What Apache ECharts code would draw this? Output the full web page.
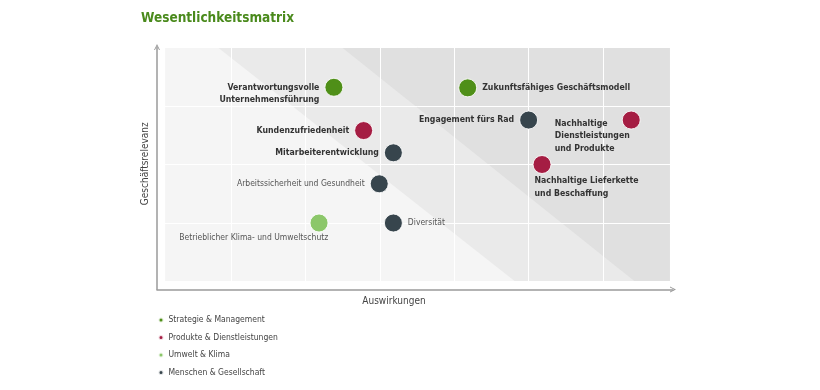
<!DOCTYPE html>
<html><head><meta charset="utf-8">
<script src="https://cdn.jsdelivr.net/npm/echarts@6/dist/echarts.min.js"></script>
<style>html,body{margin:0;padding:0;background:#fff}#c{width:820px;height:390px}</style>
</head><body><div id="c"></div>
<script>
// ---- data ----
const categories = ['Strategie & Management', 'Produkte & Dienstleistungen', 'Umwelt & Klima', 'Menschen & Gesellschaft'];
const topics = [
  'Verantwortungsvolle\nUnternehmensführung',
  'Zukunftsfähiges Geschäftsmodell',
  'Kundenzufriedenheit',
  'Engagement fürs Rad',
  'Nachhaltige\nDienstleistungen\nund Produkte',
  'Mitarbeiterentwicklung',
  'Nachhaltige Lieferkette\nund Beschaffung',
  'Arbeitssicherheit und Gesundheit',
  'Diversität',
  'Betrieblicher Klima- und Umweltschutz'
];
const topicCategory = [0, 0, 1, 3, 1, 3, 1, 3, 3, 2];
const impact    = [2.38, 4.18, 2.78, 5.00, 6.38, 3.18, 5.18, 2.99, 3.18, 2.18];
const relevance = [3.32, 3.31, 2.58, 2.76, 2.76, 2.20, 2.00, 1.67, 1.00, 1.00];
const xAxisName = 'Auswirkungen';
const yAxisName = 'Geschäftsrelevanz';
const titleText = 'Wesentlichkeitsmatrix';
// background zones (impact, relevance corners)
const zoneBase   = [[0.11, 0], [0.11, 4], [6.90, 4], [6.90, 0]];
const zoneMiddle = [[0.82, 4], [6.90, 4], [6.90, 0], [4.82, 0]];
const zoneHigh   = [[2.49, 4], [6.90, 4], [6.90, 0], [6.43, 0]];

// ---- styles / layout ----
const FONT = "'Liberation Sans Narrow', 'DejaVu Sans Condensed', 'Open Sans Condensed', Lato, sans-serif";
const catColors = ['#4f8f18', '#a51d43', '#8cc76a', '#37454d'];
const zoneColors = ['#f5f5f5', '#eaeaea', '#e0e0e0'];
const boldLbl = { fontFamily: FONT, fontSize: 8.7, fontWeight: 'bold', color: '#333', lineHeight: 12.5 };
const normLbl = { fontFamily: FONT, fontSize: 8.5, fontWeight: 'normal', color: '#555', lineHeight: 12.5 };
const labelLayout = [
  Object.assign({ position: 'left', distance: 5, align: 'right', offset: [0, 6.5] }, boldLbl),
  Object.assign({ position: 'right', distance: 5 }, boldLbl),
  Object.assign({ position: 'left', distance: 5 }, boldLbl),
  Object.assign({ position: 'left', distance: 5 }, boldLbl),
  Object.assign({ position: [-67, 6.5], align: 'left', verticalAlign: 'top' }, boldLbl),
  Object.assign({ position: 'left', distance: 5 }, boldLbl),
  Object.assign({ position: [2, 19.5], align: 'left', verticalAlign: 'top' }, boldLbl),
  Object.assign({ position: 'left', distance: 5 }, normLbl),
  Object.assign({ position: 'right', distance: 5 }, normLbl),
  Object.assign({ position: [18.7, 18.3], align: 'right', verticalAlign: 'top' }, normLbl)
];

const zones = [zoneBase, zoneMiddle, zoneHigh];
const arrowPath = 'path://M0,10 L5,0 L10,10 L8.4,10 L5,3.2 L1.6,10 Z';

const scatterSeries = categories.map((cat, ci) => ({
  name: cat,
  type: 'scatter',
  xAxisIndex: 0, yAxisIndex: 0,
  symbolSize: 18,
  itemStyle: { color: catColors[ci], borderColor: 'rgba(255,255,255,0.85)', borderWidth: 1, opacity: 1 },
  z: 5,
  data: topics.map((t, i) => ({ t, i })).filter(o => topicCategory[o.i] === ci).map(o => ({
    name: o.t,
    value: [impact[o.i], relevance[o.i]],
    label: Object.assign({ show: true, formatter: '{b}' }, labelLayout[o.i])
  }))
}));

const option = {
  animation: false,
  backgroundColor: '#fff',
  title: { text: titleText, left: 141, top: 11, padding: 0, textStyle: { fontFamily: FONT, fontSize: 13.5, fontWeight: 'bold', color: '#4a8a1c' } },
  legend: {
    orient: 'vertical', left: 157.5, top: 314, padding: 0, itemGap: 5.5, itemWidth: 5, itemHeight: 5, icon: 'circle',
    textStyle: { fontFamily: FONT, fontSize: 8.5, color: '#444', lineHeight: 12 },
    data: categories
  },
  grid: [
    { left: 157, right: 142.7, top: 47.5, bottom: 108.5 },
    { left: 157, right: 147, top: 47, bottom: 100.5 }
  ],
  xAxis: [
    { gridIndex: 0, type: 'value', min: 0, max: 7, interval: 1, axisLine: { show: false }, axisTick: { show: false }, axisLabel: { show: false },
      splitLine: { show: true, lineStyle: { color: '#ffffff', width: 1 } } },
    { gridIndex: 1, type: 'value', min: 0, max: 1, axisLine: { show: true, onZero: false, symbol: ['none', arrowPath], symbolSize: [9, 6], lineStyle: { color: '#9a9a9a', width: 1.5 } },
      axisTick: { show: false }, axisLabel: { show: false }, splitLine: { show: false },
      name: xAxisName, nameLocation: 'middle', nameGap: 7,
      nameTextStyle: { fontFamily: FONT, fontSize: 10, color: '#444', padding: [0, 42, 0, 0] } }
  ],
  yAxis: [
    { gridIndex: 0, type: 'value', min: 0, max: 4, interval: 1, axisLine: { show: false }, axisTick: { show: false }, axisLabel: { show: false },
      splitLine: { show: true, lineStyle: { color: '#ffffff', width: 1 } } },
    { gridIndex: 1, type: 'value', min: 0, max: 1, axisLine: { show: true, onZero: false, symbol: ['none', arrowPath], symbolSize: [9, 6], lineStyle: { color: '#9a9a9a', width: 1.5 } },
      axisTick: { show: false }, axisLabel: { show: false }, splitLine: { show: false },
      name: yAxisName, nameLocation: 'middle', nameGap: 7,
      nameTextStyle: { fontFamily: FONT, fontSize: 10, color: '#444', padding: [0, 0, 0, 9] } }
  ],
  series: [
    {
      type: 'custom', name: 'zones', xAxisIndex: 0, yAxisIndex: 0, silent: true, z: -1, clip: false,
      data: zones.map((z, i) => [i]),
      renderItem: function (params, api) {
        const poly = zones[params.dataIndex].map(p => api.coord(p));
        return { type: 'polygon', shape: { points: poly }, style: { fill: zoneColors[params.dataIndex] } };
      }
    }
  ].concat(scatterSeries)
};

const chart = echarts.init(document.getElementById('c'), null, { renderer: 'canvas' });
chart.setOption(option);
</script></body></html>
